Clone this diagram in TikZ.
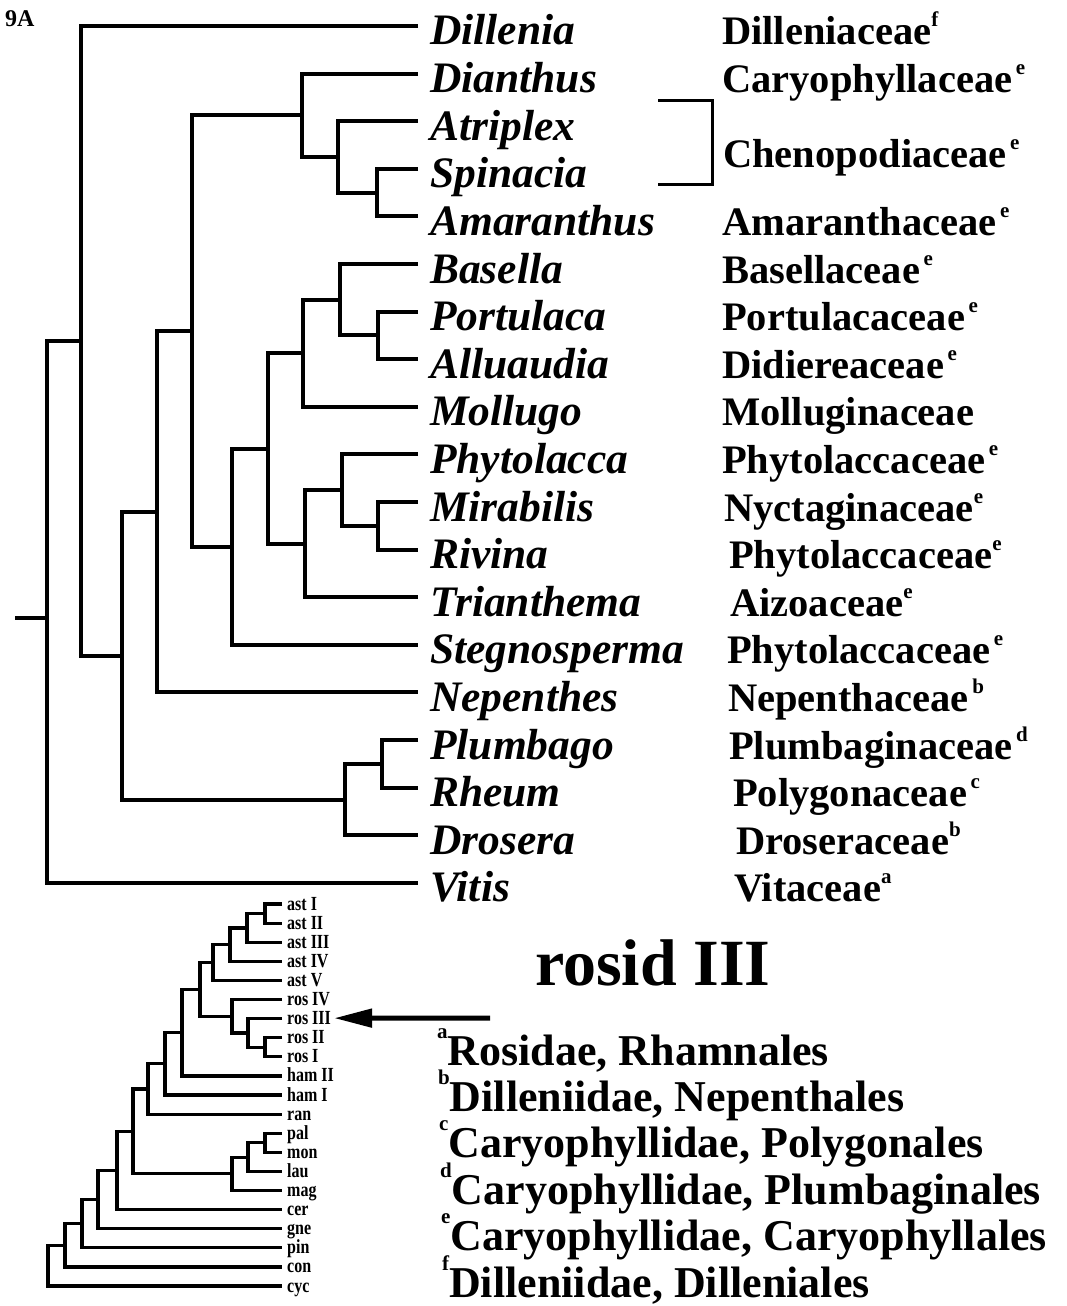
\documentclass[tikz,border=0pt]{standalone}
\usepackage{fontspec}
\setmainfont{Liberation Serif}
\usetikzlibrary{arrows.meta}

% raised footnote marks
\newcommand\famsup[1]{\raisebox{18pt}{\fontsize{21}{21}\selectfont #1}}
\newcommand\notesup[1]{\raisebox{27pt}{\fontsize{21}{21}\selectfont #1}}

\tikzset{
  branch/.style={line width=4pt},
  minibranch/.style={line width=3.2pt},
  genus/.style={anchor=base west,inner sep=0pt,font=\fontsize{43.5}{43.5}\selectfont\bfseries\itshape},
  family/.style={anchor=base west,inner sep=0pt,font=\fontsize{40.5}{40.5}\selectfont\bfseries},
  clade/.style={anchor=base west,inner sep=0pt,font=\fontsize{16}{16}\selectfont\bfseries},
  note/.style={anchor=base west,inner sep=0pt,font=\fontsize{44}{44}\selectfont\bfseries},
}

\begin{document}
\begin{tikzpicture}[x=1pt,y=-1pt,>=Latex]
\useasboundingbox (0,0) rectangle (1066,1306);

\node[anchor=base west,inner sep=0pt,font=\fontsize{24}{24}\selectfont\bfseries] (panel) at (5,27) {9A};

% main tree: leaves and genera
\foreach \y/\n/\g in {26/dil/Dillenia, 73.6/dia/Dianthus, 121.2/atr/Atriplex,
  168.8/spi/Spinacia, 216.4/ama/Amaranthus, 264/bas/Basella, 311.6/por/Portulaca,
  359.2/all/Alluaudia, 406.8/mol/Mollugo, 454.4/phy/Phytolacca, 502/mir/Mirabilis,
  549.6/riv/Rivina, 597.2/tri/Trianthema, 644.8/ste/Stegnosperma, 692.4/nep/Nepenthes,
  740/plu/Plumbago, 787.6/rhe/Rheum, 835.2/dro/Drosera, 882.8/vit/Vitis}{
  \coordinate (\n) at (418,\y);
  \node[genus] (\n-g) at (430,\y+19) {\g};
}

% families
\foreach \x/\y/\n/\f in {722/26/dil/Dilleniaceae\famsup{f}, 722/73.6/dia/Caryophyllaceae\famsup{\,e},
  722/216.4/ama/Amaranthaceae\famsup{\,e}, 722/264/bas/Basellaceae\famsup{\,e},
  722/311.6/por/Portulacaceae\famsup{\,e}, 722/359.2/all/Didiereaceae\famsup{\,e},
  722/406.8/mol/Molluginaceae, 722/454.4/phy/Phytolaccaceae\famsup{\,e},
  724/502/mir/Nyctaginaceae\famsup{e}, 729/549.6/riv/Phytolaccaceae\famsup{e},
  730/597.2/tri/Aizoaceae\famsup{e}, 727/644.8/ste/Phytolaccaceae\famsup{\,e},
  728/692.4/nep/Nepenthaceae\famsup{\,b}, 729/740/plu/Plumbaginaceae\famsup{\,d},
  733/787.6/rhe/Polygonaceae\famsup{\,c}, 736/835.2/dro/Droseraceae\famsup{b},
  734/882.8/vit/Vitaceae\famsup{a}}{
  \node[family] (\n-f) at (\x,\y+19) {\f};
}
\node[family] (cheno) at (723,167) {Chenopodiaceae\famsup{\,e}};
\coordinate (brtop) at (658,100);
\coordinate (brmid) at (712,142);
\coordinate (brbot) at (658,184);
\draw[line width=3pt] (brtop) -| (brmid) |- (brbot);

% main tree: internal nodes
\coordinate (spiama) at (377,192.6);
\coordinate (atrx) at (338,156.9);
\coordinate (caryx) at (302,115.3);
\coordinate (porall) at (378,335.4);
\coordinate (basx) at (340,299.7);
\coordinate (molx) at (303,353.3);
\coordinate (mirriv) at (378,525.8);
\coordinate (phyx) at (342,490.1);
\coordinate (trix) at (305,543.7);
\coordinate (portx) at (268,448.5);
\coordinate (stex) at (232,546.6);
\coordinate (core) at (192,330.9);
\coordinate (nepx) at (157,511.7);
\coordinate (plurhe) at (382,763.8);
\coordinate (drox) at (345,799.5);
\coordinate (carx) at (122,655.6);
\coordinate (dilx) at (81,340.8);
\coordinate (root) at (47,618);
\coordinate (stub) at (15,618);

\draw[branch] (spi) -| (spiama) |- (ama);
\draw[branch] (atr) -| (atrx) |- (spiama);
\draw[branch] (dia) -| (caryx) |- (atrx);
\draw[branch] (por) -| (porall) |- (all);
\draw[branch] (bas) -| (basx) |- (porall);
\draw[branch] (basx) -| (molx) |- (mol);
\draw[branch] (mir) -| (mirriv) |- (riv);
\draw[branch] (phy) -| (phyx) |- (mirriv);
\draw[branch] (phyx) -| (trix) |- (tri);
\draw[branch] (molx) -| (portx) |- (trix);
\draw[branch] (portx) -| (stex) |- (ste);
\draw[branch] (caryx) -| (core) |- (stex);
\draw[branch] (core) -| (nepx) |- (nep);
\draw[branch] (plu) -| (plurhe) |- (rhe);
\draw[branch] (plurhe) -| (drox) |- (dro);
\draw[branch] (nepx) -| (carx) |- (drox);
\draw[branch] (dil) -| (dilx) |- (carx);
\draw[branch] (dilx) -| (root) |- (vit);
\draw[branch] (stub) -- (root);

% inset: seed plant tree
\foreach \j/\n/\t in {0/a1/ast I, 1/a2/ast II, 2/a3/ast III, 3/a4/ast IV, 4/a5/ast V,
  5/r4/ros IV, 6/r3/ros III, 7/r2/ros II, 8/r1/ros I, 9/h2/ham II, 10/h1/ham I,
  11/ran/ran, 12/pal/pal, 13/mon/mon, 14/lau/lau, 15/mag/mag, 16/cer/cer,
  17/gne/gne, 18/pin/pin, 19/con/con, 20/cyc/cyc}{
  \coordinate (\n) at (282,904+19.1*\j);
  \node[clade] (\n-l) at (287,910+19.1*\j) {\scalebox{1}[1.25]{\t}};
}
\coordinate (i1) at (265,913.5);
\coordinate (i2) at (247,927.9);
\coordinate (i3) at (230,944.6);
\coordinate (i4) at (213,962.5);
\coordinate (j1) at (265,1047.3);
\coordinate (j2) at (248,1032.9);
\coordinate (j3) at (232,1016.2);
\coordinate (k1) at (200,989.4);
\coordinate (k2) at (182,1032.6);
\coordinate (k3) at (165,1063.8);
\coordinate (k4) at (148,1089);
\coordinate (m1) at (265,1142.8);
\coordinate (m2) at (248,1157.1);
\coordinate (m3) at (232,1173.8);
\coordinate (k5) at (133,1131.4);
\coordinate (k6) at (117,1170.5);
\coordinate (k7) at (98,1199.6);
\coordinate (k8) at (82,1223.7);
\coordinate (k9) at (65,1245.3);
\coordinate (k10) at (48,1265.7);

\draw[minibranch] (a1) -| (i1) |- (a2);
\draw[minibranch] (i1) -| (i2) |- (a3);
\draw[minibranch] (i2) -| (i3) |- (a4);
\draw[minibranch] (i3) -| (i4) |- (a5);
\draw[minibranch] (r2) -| (j1) |- (r1);
\draw[minibranch] (r3) -| (j2) |- (j1);
\draw[minibranch] (r4) -| (j3) |- (j2);
\draw[minibranch] (i4) -| (k1) |- (j3);
\draw[minibranch] (k1) -| (k2) |- (h2);
\draw[minibranch] (k2) -| (k3) |- (h1);
\draw[minibranch] (k3) -| (k4) |- (ran);
\draw[minibranch] (pal) -| (m1) |- (mon);
\draw[minibranch] (m1) -| (m2) |- (lau);
\draw[minibranch] (m2) -| (m3) |- (mag);
\draw[minibranch] (k4) -| (k5) |- (m3);
\draw[minibranch] (k5) -| (k6) |- (cer);
\draw[minibranch] (k6) -| (k7) |- (gne);
\draw[minibranch] (k7) -| (k8) |- (pin);
\draw[minibranch] (k8) -| (k9) |- (con);
\draw[minibranch] (k9) -| (k10) |- (cyc);

% pointer to rosid III
\node[anchor=base west,inner sep=0pt,font=\fontsize{66}{66}\selectfont\bfseries] (rosid) at (535,985) {rosid III};
\coordinate (tail) at (490,1018);
\draw[line width=5pt,-{Triangle[length=38pt,width=18pt]}] (tail) -- ([xshift=3pt]r3-l.east);

% footnotes
\foreach \k/\s/\t in {0/a/{Rosidae, Rhamnales}, 1/b/{Dilleniidae, Nepenthales},
  2/c/{Caryophyllidae, Polygonales}, 3/d/{Caryophyllidae, Plumbaginales},
  4/e/{Caryophyllidae, Caryophyllales}, 5/f/{Dilleniidae, Dilleniales}}{
  \node[note] (fn\s) at (437+\k,1065+46.4*\k) {\notesup{\s}\t};
}
\end{tikzpicture}
\end{document}
